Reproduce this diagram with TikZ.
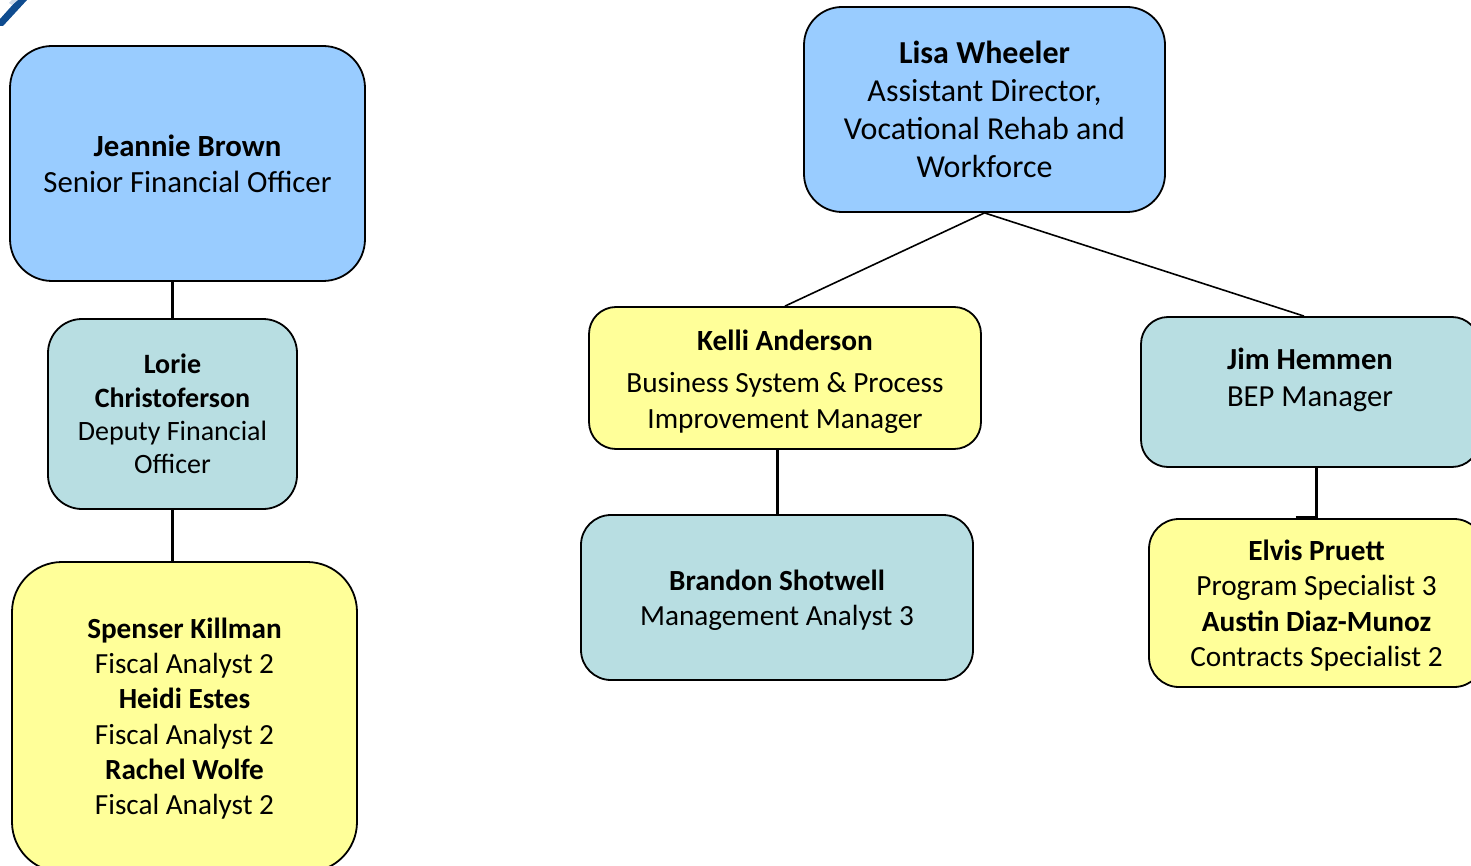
\documentclass[tikz,border=0pt]{standalone}
\usepackage{fontspec}
\setmainfont{Carlito}
\usetikzlibrary{calc}
\definecolor{bluebox}{HTML}{99CCFF}
\definecolor{tealbox}{HTML}{B8DEE2}
\definecolor{yellowbox}{HTML}{FFFF99}
\definecolor{logoblue}{HTML}{0F4C8F}
\newcommand{\fs}[2]{\fontsize{#1}{#2}\selectfont}
\newcommand{\topgap}[1]{\rule{0pt}{#1pt}}
\tikzset{
  x=1pt,y=-1pt,
  card/.style={draw=black,line width=1.8pt,align=center,inner sep=0pt,text=black},
  bluecard/.style={card,fill=bluebox},
  tealcard/.style={card,fill=tealbox},
  yellowcard/.style={card,fill=yellowbox},
  link/.style={draw=black,line width=1.6pt},
  stem/.style={draw=black,line width=3pt},
}
\begin{document}
\begin{tikzpicture}
\useasboundingbox (0,0) rectangle (1471,866);
\clip (0,0) rectangle (1471,866);
% logo fragment
\fill[logoblue] (0,19) -- (17,0) -- (27,0) -- (3,26) -- (0,26) -- cycle;
\fill[white!80!logoblue] (9,3) -- (12,0) -- (18,0) -- (12,5) -- cycle;

\node[bluecard,rounded corners=42pt,minimum width=355pt,minimum height=235pt,font=\fs{30.8}{36}] (jeannie) at (187.5,163.5)
  {\textbf{Jeannie Brown}\\Senior Financial Officer};
\node[tealcard,rounded corners=34pt,minimum width=249pt,minimum height=190pt,font=\fs{28}{33.3}] (lorie) at (172.5,414)
  {\textbf{Lorie}\\\textbf{Christoferson}\\Deputy Financial\\Officer};
\node[yellowcard,rounded corners=50pt,minimum width=345pt,minimum height=310pt,font=\fs{29.2}{35.2}] (spenser) at (184.5,717)
  {\topgap{23.5}\textbf{Spenser Killman}\\Fiscal Analyst 2\\\textbf{Heidi Estes}\\Fiscal Analyst 2\\\textbf{Rachel Wolfe}\\Fiscal Analyst 2};
\node[bluecard,rounded corners=38pt,minimum width=361pt,minimum height=205pt,font=\fs{32}{38.1}] (lisa) at (984.5,109.5)
  {\textbf{Lisa Wheeler}\\Assistant Director,\\Vocational Rehab and\\Workforce};
\node[yellowcard,rounded corners=27pt,minimum width=392pt,minimum height=142pt,font=\fs{29.3}{36}] (kelli) at (785,378)
  {\topgap{28}\textbf{Kelli Anderson}\\[6pt]Business System \& Process\\Improvement Manager};
\node[tealcard,rounded corners=27pt,minimum width=338pt,minimum height=150pt,font=\fs{30.6}{37}] (jim) at (1310,392)
  {\textbf{Jim Hemmen}\\BEP Manager\\[-7pt]~};
\node[tealcard,rounded corners=30pt,minimum width=392pt,minimum height=165pt,font=\fs{29.2}{35}] (brandon) at (777,597.5)
  {\topgap{27}\textbf{Brandon Shotwell}\\Management Analyst 3};
\node[yellowcard,rounded corners=30pt,minimum width=335pt,minimum height=168pt,font=\fs{29.3}{35.3}] (elvis) at (1316.5,603)
  {\topgap{26}\textbf{Elvis Pruett}\\Program Specialist 3\\\textbf{Austin Diaz-Munoz}\\Contracts Specialist 2};

\draw[stem] (lorie.north) -- (lorie.north |- jeannie.south);
\draw[stem] (lorie.south) -- (lorie.south |- spenser.north);
\draw[stem] (kelli.south -| brandon.north) -- (brandon.north);
\draw[stem] (elvis.north) -- (elvis.north |- jim.south);
\draw[stem] (elvis.north) ++(-21,-1) -- ++(21,0);
\draw[link] (lisa.south) -- (kelli.north);
\draw[link] (lisa.south) -- ($(jim.north)+(-6,0)$);
\end{tikzpicture}
\end{document}
